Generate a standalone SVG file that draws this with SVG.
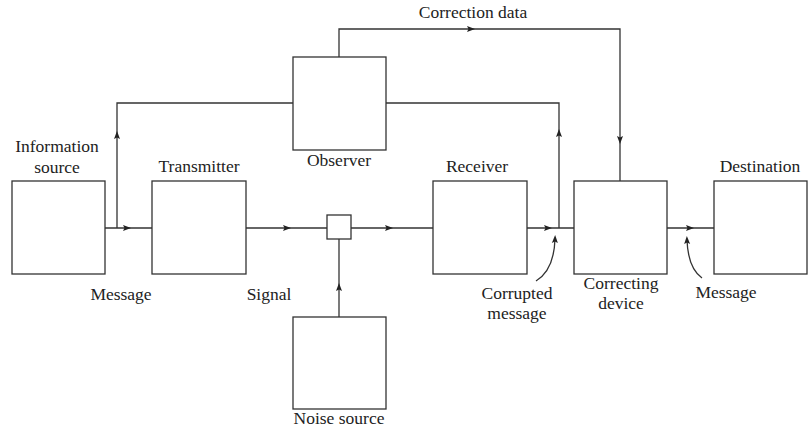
<svg xmlns="http://www.w3.org/2000/svg" xmlns:xlink="http://www.w3.org/1999/xlink" width="812" height="429" viewBox="0 0 812 429">
  <style>
    .box { fill: #fff; stroke: #333; stroke-width: 1.3; }
    .wire { fill: none; stroke: #333; stroke-width: 1.3; }
    .lbl { font-family: 'Liberation Serif', 'DejaVu Serif', serif; font-size: 17.5px; fill: #222; text-anchor: middle; }
    .ah { fill: #222; }
  </style>
  <defs>
    <!-- small filled arrowhead, pointing along +x -->
    <path id="ah" class="ah" d="M-4,-3 L4,0 L-4,3 L-2.5,0 Z"/>
  </defs>
  <rect width="812" height="429" fill="#fff"/>

  <g id="connectors">
    <!-- main signal path -->
    <path class="wire" d="M105,228 H152"/>
    <path class="wire" d="M246,228 H327"/>
    <path class="wire" d="M351,228 H433"/>
    <path class="wire" d="M527,228 H574"/>
    <path class="wire" d="M667,228 H714"/>
    <!-- noise into mixer -->
    <path class="wire" d="M339,317 V239"/>
    <!-- taps to observer -->
    <path class="wire" d="M117,228 V103 H293"/>
    <path class="wire" d="M386,103 H559 V228"/>
    <!-- correction data -->
    <path class="wire" d="M339,57 V29 H620 V181"/>
    <!-- pointer curves -->
    <path class="wire" d="M536,281 Q554,270 555,239"/>
    <path class="wire" d="M702,278 Q688,268 687,240"/>

    <use xlink:href="#ah" transform="translate(127,228)"/>
    <use xlink:href="#ah" transform="translate(287,228)"/>
    <use xlink:href="#ah" transform="translate(389,228)"/>
    <use xlink:href="#ah" transform="translate(548,228)"/>
    <use xlink:href="#ah" transform="translate(690,228)"/>
    <use xlink:href="#ah" transform="translate(339,287) rotate(-90)"/>
    <use xlink:href="#ah" transform="translate(117,135) rotate(-90)"/>
    <use xlink:href="#ah" transform="translate(559,133) rotate(-90)"/>
    <use xlink:href="#ah" transform="translate(471,29)"/>
    <use xlink:href="#ah" transform="translate(620,140) rotate(90)"/>
    <use xlink:href="#ah" transform="translate(555,239) rotate(-88)"/>
    <use xlink:href="#ah" transform="translate(687,240) rotate(-92)"/>
  </g>

  <g id="information-source">
    <rect class="box" x="12" y="181" width="93" height="93"/>
    <text class="lbl" x="57" y="152">Information</text>
    <text class="lbl" x="57" y="173">source</text>
  </g>
  <g id="transmitter">
    <rect class="box" x="152" y="181" width="94" height="93"/>
    <text class="lbl" x="199" y="172">Transmitter</text>
  </g>
  <g id="mixer">
    <rect class="box" x="327" y="215" width="24" height="24"/>
  </g>
  <g id="noise-source">
    <rect class="box" x="293" y="317" width="93" height="92"/>
    <text class="lbl" x="339" y="424">Noise source</text>
  </g>
  <g id="observer">
    <rect class="box" x="293" y="57" width="93" height="93"/>
    <text class="lbl" x="339" y="166">Observer</text>
  </g>
  <g id="receiver">
    <rect class="box" x="433" y="181" width="94" height="93"/>
    <text class="lbl" x="477" y="172">Receiver</text>
  </g>
  <g id="correcting-device">
    <rect class="box" x="574" y="181" width="93" height="93"/>
    <text class="lbl" x="621" y="289">Correcting</text>
    <text class="lbl" x="621" y="309">device</text>
  </g>
  <g id="destination">
    <rect class="box" x="714" y="181" width="93" height="93"/>
    <text class="lbl" x="760" y="172">Destination</text>
  </g>

  <g id="labels">
    <text class="lbl" x="473" y="18">Correction data</text>
    <text class="lbl" x="121" y="300">Message</text>
    <text class="lbl" x="269" y="300">Signal</text>
    <text class="lbl" x="517" y="299">Corrupted</text>
    <text class="lbl" x="517" y="319">message</text>
    <text class="lbl" x="726" y="298">Message</text>
  </g>
</svg>
